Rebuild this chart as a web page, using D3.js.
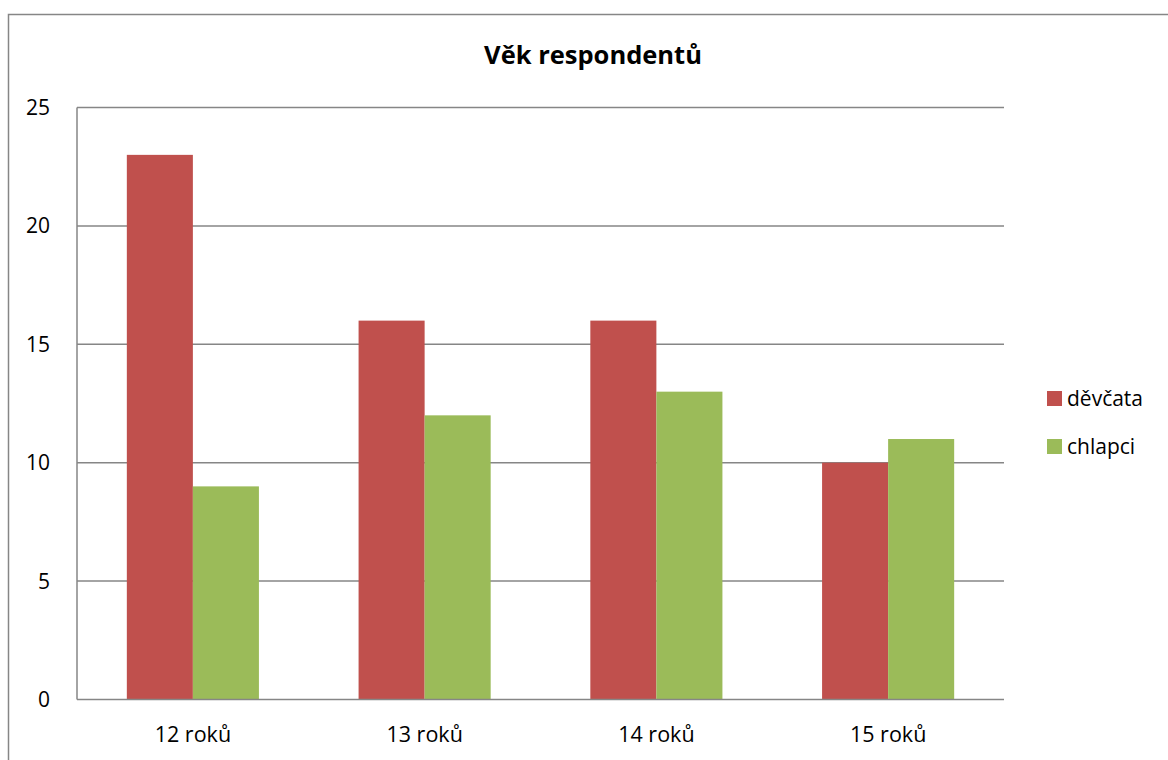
<!DOCTYPE html>
<html><head><meta charset="utf-8">
<script src="https://cdn.jsdelivr.net/npm/d3@7"></script>
<style>body{margin:0;background:#fff;} svg{display:block;font-family:"Open Sans","Noto Sans",sans-serif;}</style>
</head><body>
<svg id="c" width="1168" height="760"></svg>
<script>
const categories = ["12 roků","13 roků","14 roků","15 roků"];
const seriesNames = ["děvčata","chlapci"];
const devcata = [23,16,16,10];
const chlapci = [9,12,13,11];
const yTicks = [0,5,10,15,20,25];
const colors = ["#C0504D","#9BBB59"];
const title = "Věk respondentů";

const svg = d3.select("#c");
svg.append("rect").attr("x",8.5).attr("y",14.5).attr("width",1200).attr("height",800)
  .attr("fill","#fff").attr("stroke","#868686").attr("stroke-width",1.5);

const L=77, R=1004, T=107.5, B=699.5;
const y = d3.scaleLinear().domain([0,25]).range([B,T]);
const x0 = d3.scaleBand().domain(categories).range([L,R]).paddingInner(0.43).paddingOuter(0.215);
const x1 = d3.scaleBand().domain(seriesNames).range([0,x0.bandwidth()]);

svg.append("g").selectAll("line").data(yTicks.filter(d=>d>0)).join("line")
  .attr("x1",L).attr("x2",R).attr("y1",d=>y(d)).attr("y2",d=>y(d))
  .attr("stroke","#868686").attr("stroke-width",1.5);

const data = [devcata, chlapci];
const g = svg.append("g");
categories.forEach((c,i)=>{
  seriesNames.forEach((s,j)=>{
    g.append("rect").attr("x",x0(c)+x1(s)).attr("y",y(data[j][i]))
      .attr("width",x1.bandwidth()).attr("height",B-y(data[j][i]))
      .attr("fill",colors[j]);
  });
});

svg.append("line").attr("x1",L).attr("x2",L).attr("y1",T).attr("y2",B).attr("stroke","#868686").attr("stroke-width",1.5);
svg.append("line").attr("x1",L).attr("x2",R).attr("y1",B).attr("y2",B).attr("stroke","#868686").attr("stroke-width",1.5);

svg.append("g").selectAll("text").data(yTicks).join("text")
  .attr("x",50).attr("y",d=>y(d)).attr("dy","0.36em").attr("text-anchor","end")
  .style("font-size","21px").attr("fill","#000").text(d=>d);

svg.append("g").selectAll("text").data(categories).join("text")
  .attr("x",d=>x0(d)+x0.bandwidth()/2).attr("y",742).attr("text-anchor","middle")
  .style("font-size","21.5px").attr("fill","#000").text(d=>d);

svg.append("text").attr("x",593).attr("y",64).attr("text-anchor","middle")
  .style("font-size","25.5px").attr("font-weight","bold").text(title);

seriesNames.forEach((s,j)=>{
  const yy = 391 + j*48;
  svg.append("rect").attr("x",1047).attr("y",yy).attr("width",15).attr("height",15).attr("fill",colors[j]);
  svg.append("text").attr("x",1067).attr("y",yy+15).style("font-size","21px").text(s);
});
</script>
</body></html>
